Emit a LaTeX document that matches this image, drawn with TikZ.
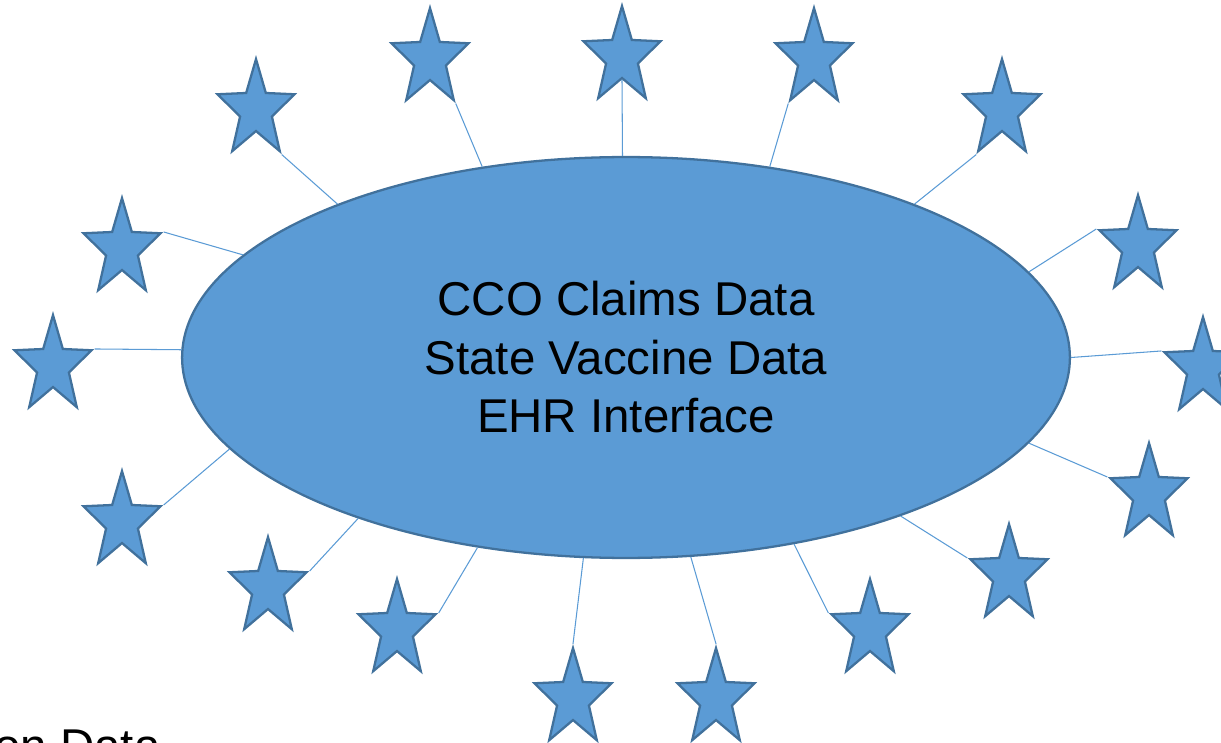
\documentclass[tikz,border=0pt]{standalone}
\usepackage{fontspec}
\setmainfont{Liberation Sans}
\usetikzlibrary{shapes.geometric}
\definecolor{fillblue}{HTML}{5B9BD5}
\definecolor{edgeblue}{HTML}{41719C}
\begin{document}
\begin{tikzpicture}[x=0.02cm, y=-0.02cm]
    \tikzstyle{pt}=[star, star points=5, star point ratio=2.42, minimum size=1.62cm, inner sep=0pt,
        fill=fillblue, draw=edgeblue, line width=1.3pt, yscale=1.257, transform shape]
    \tikzstyle{hub}=[ellipse, minimum width=17.76cm, minimum height=8.02cm, inner sep=0pt,
        fill=fillblue, draw=edgeblue, line width=1.3pt, align=center,
        font=\fontsize{27}{33.3}\selectfont]
    \tikzstyle{link}=[draw=fillblue, line width=0.6pt]
    \useasboundingbox (0,0) rectangle (1221,743);
    \node (hub) [hub] at (626,357.5) {CCO Claims Data\\State Vaccine Data\\EHR Interface};
    \node (s1) [pt] at (622,57) {};
    \node (s2) [pt] at (814,59) {};
    \node (s3) [pt] at (1002,110) {};
    \node (s4) [pt] at (1138,246) {};
    \node (s5) [pt] at (1203,368) {};
    \node (s6) [pt] at (1149,494) {};
    \node (s7) [pt] at (1009,575) {};
    \node (s8) [pt] at (870,630) {};
    \node (s9) [pt] at (716,699) {};
    \node (s10) [pt] at (573,699) {};
    \node (s11) [pt] at (397,630) {};
    \node (s12) [pt] at (268,588) {};
    \node (s13) [pt] at (122,522) {};
    \node (s14) [pt] at (53,366) {};
    \node (s15) [pt] at (122,249) {};
    \node (s16) [pt] at (256,110) {};
    \node (s17) [pt] at (430,59) {};
    \draw [link] (s1.inner point 3) -- (hub.91);
    \draw [link] (s2.outer point 3) -- (hub.53.3);
    \draw [link] (s3.outer point 3) -- (hub.28.7);
    \draw [link] (s4.outer point 2) -- (hub.12.6);
    \draw [link] (s5.outer point 2) -- (hub.0.6);
    \draw [link] (s6.outer point 2) -- (hub.348.7);
    \draw [link] (s7.outer point 2) -- (hub.330.9);
    \draw [link] (s8.outer point 2) -- (hub.312.3);
    \draw [link] (s9.outer point 1) -- (hub.288.7);
    \draw [link] (s10.outer point 1) -- (hub.258.8);
    \draw [link] (s11.outer point 5) -- (hub.232.5);
    \draw [link] (s12.outer point 5) -- (hub.211.2);
    \draw [link] (s13.outer point 5) -- (hub.193.8);
    \draw [link] (s14.outer point 5) -- (hub.179.2);
    \draw [link] (s15.outer point 5) -- (hub.165.8);
    \draw [link] (s16.outer point 4) -- (hub.152.7);
    \draw [link] (s17.outer point 4) -- (hub.127.3);
    % cut-off caption at the lower left
    \node (src) [anchor=base west, inner sep=0pt, font=\fontsize{27}{33.3}\selectfont] at (-6,762) {on Data};
\end{tikzpicture}
\end{document}
